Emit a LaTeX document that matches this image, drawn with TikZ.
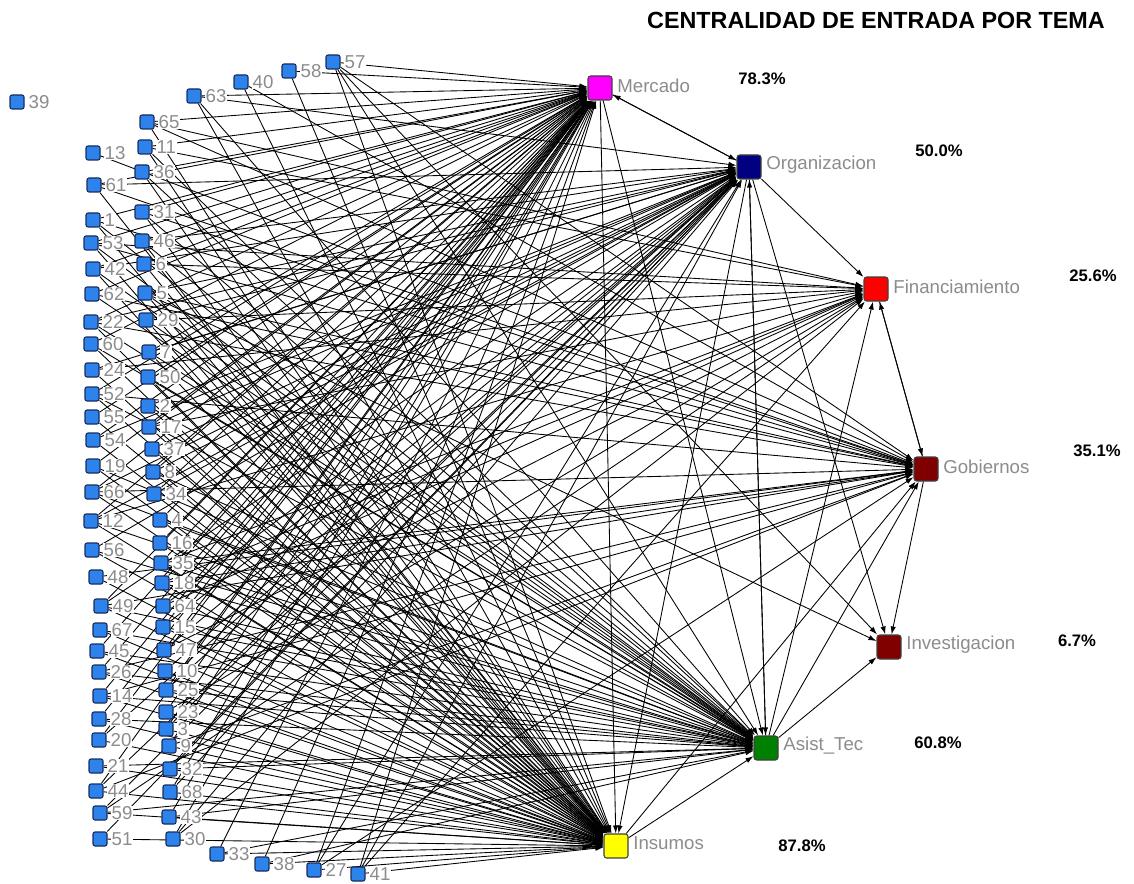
\documentclass[tikz,border=0pt]{standalone}
\usepackage{fontspec}
\setmainfont{Liberation Sans}
\usetikzlibrary{arrows.meta}
\pgfdeclarelayer{bg}
\pgfsetlayers{bg,main}
\definecolor{labelgray}{RGB}{140,140,140}
\definecolor{actorfill}{RGB}{45,130,235}
\definecolor{actordraw}{RGB}{25,45,95}
\tikzset{
  actor/.style={rectangle, draw=actordraw, fill=actorfill, minimum size=10.5pt,
    inner sep=0pt, rounded corners=1.5pt, line width=0.8pt},
  theme/.style={rectangle, draw=black!75, minimum size=18pt, inner sep=0pt,
    rounded corners=2pt, line width=0.8pt},
  lbl/.style={text=labelgray, font=\fontsize{14}{14}\selectfont, inner sep=0.4pt, fill=white},
  pct/.style={font=\bfseries\fontsize{12.5}{13}\selectfont, inner sep=0pt},
  edge/.style={draw=black, line width=0.65pt, -{Latex[length=6pt,width=4pt]}},
}
\begin{document}
\begin{tikzpicture}[x=0.75pt,y=-0.75pt]
\begin{pgfonlayer}{bg}
\path[use as bounding box, fill=white] (0,0) rectangle (1134,884);
\end{pgfonlayer}

% theme nodes
\node[theme, fill={rgb,255:red,255;green,0;blue,255}, label={[lbl,label distance=3pt,yshift=2pt]right:Mercado}] (mer) at (600,88) {};
\node[theme, fill={rgb,255:red,0;green,0;blue,128}, label={[lbl,label distance=3pt,yshift=2pt]right:Organizacion}] (org) at (749,167) {};
\node[theme, fill={rgb,255:red,255;green,0;blue,0}, label={[lbl,label distance=3pt,yshift=2pt]right:Financiamiento}] (fin) at (876,289) {};
\node[theme, fill={rgb,255:red,128;green,0;blue,0}, label={[lbl,label distance=3pt,yshift=2pt]right:Gobiernos}] (gob) at (926,469) {};
\node[theme, fill={rgb,255:red,128;green,0;blue,0}, label={[lbl,label distance=3pt,yshift=2pt]right:Investigacion}] (inv) at (889,647) {};
\node[theme, fill={rgb,255:red,0;green,128;blue,0}, label={[lbl,label distance=3pt,yshift=2pt]right:Asist\_Tec}] (asi) at (766,748) {};
\node[theme, fill={rgb,255:red,255;green,255;blue,0}, label={[lbl,label distance=3pt,yshift=2pt]right:Insumos}] (ins) at (616,846) {};

% actor nodes
\foreach \i/\x/\y in {39/17/102, 65/147/122, 63/194/96, 40/241/82, 58/289/71, 57/333/62,
  13/93/153, 11/145/147, 36/142/172, 61/94/185, 31/142/212, 1/93/220,
  53/91/243, 46/142/241, 42/93/269, 6/144/264, 62/92/294, 5/145/293,
  22/91/322, 29/146/320, 60/91/344, 7/149/352, 24/92/370, 50/148/377,
  52/92/394, 2/148/406, 55/92/417, 17/149/427, 54/93/440, 37/152/449,
  19/93/466, 8/153/472, 66/92/492, 34/154/494, 12/91/521, 4/160/520,
  56/92/550, 16/160/543, 35/161/563, 48/96/577, 18/162/583, 49/101/606,
  64/163/606, 67/100/630, 15/163/627, 45/97/651, 47/164/650, 26/99/672,
  10/165/671, 14/100/696, 25/166/690, 28/99/719, 23/166/712, 3/166/729,
  20/99/740, 9/169/746, 21/96/766, 32/170/769, 44/96/791, 68/170/792,
  59/100/813, 43/169/817, 51/100/839, 30/173/839, 33/217/854, 38/262/864,
  27/314/870, 41/358/874}
  \node[actor, label={[lbl,label distance=2.5pt]right:\i}] (n\i) at (\x,\y) {};

% ties from actors to themes
\begin{pgfonlayer}{bg}
\foreach \i in {1,...,38,40,41,...,68} {
  \pgfmathtruncatemacro\hmer{mod(\i*37+11,100)}
  \pgfmathtruncatemacro\hins{mod(\i*53+7,100)}
  \pgfmathtruncatemacro\hasi{mod(\i*29+3,100)}
  \pgfmathtruncatemacro\horg{mod(\i*41+19,100)}
  \pgfmathtruncatemacro\hgob{mod(\i*23+5,100)}
  \pgfmathtruncatemacro\hfin{mod(\i*17+13,100)}
  \ifnum\hmer<80 \draw[edge] (n\i) -- (mer); \fi
  \ifnum\hins<93 \draw[edge] (n\i) -- (ins); \fi
  \ifnum\hasi<62 \draw[edge] (n\i) -- (asi); \fi
  \ifnum\horg<50 \draw[edge] (n\i) -- (org); \fi
  \ifnum\hgob<33 \draw[edge] (n\i) -- (gob); \fi
  \ifnum\hfin<24 \draw[edge] (n\i) -- (fin); \fi
}
\draw[edge] (n57) -- (inv);
\draw[edge] (n5) -- (inv);
% ties between themes
\foreach \a/\b in {mer/org, org/mer, mer/ins, org/ins, org/asi, asi/org, mer/asi,
  fin/gob, gob/fin, asi/fin, gob/inv, org/inv, asi/inv, ins/asi, asi/gob, ins/gob, org/fin}
  \draw[edge] (\a) -- (\b);
\end{pgfonlayer}

% in-degree centrality
\node[font=\bfseries\fontsize{17.5}{18}\selectfont, inner sep=0pt] (title) at (876,20) {CENTRALIDAD DE ENTRADA POR TEMA};
\node[pct] (pmer) at (762,79) {78.3\%};
\node[pct] (porg) at (939,151) {50.0\%};
\node[pct] (pfin) at (1093,276) {25.6\%};
\node[pct] (pgob) at (1097,451) {35.1\%};
\node[pct] (pinv) at (1077,641) {6.7\%};
\node[pct] (pasi) at (938,743) {60.8\%};
\node[pct] (pins) at (802,846) {87.8\%};
\end{tikzpicture}
\end{document}
